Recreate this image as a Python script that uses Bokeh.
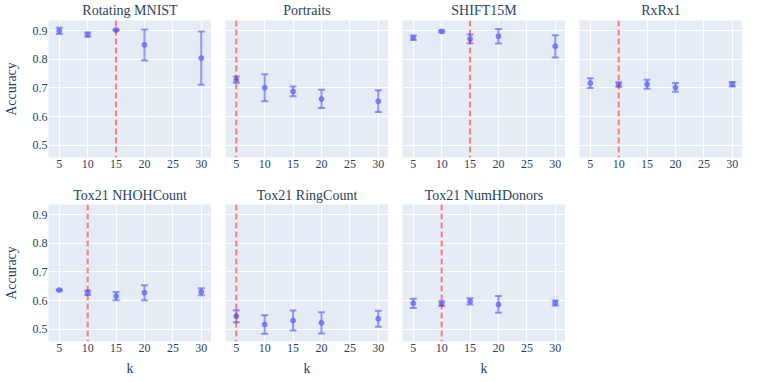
from bokeh.plotting import figure
from bokeh.layouts import row, column
from bokeh.models import Range1d, FixedTicker, Span
from bokeh.embed import file_html
from bokeh.resources import INLINE

FONT = "Liberation Serif"
TXT = "#2a3f5f"
BG = "#E5ECF6"
BLUE = "#636efa"

ks = [5, 10, 15, 20, 30]
x_ticks = [5, 10, 15, 20, 25, 30]
y_ticks = [0.5, 0.6, 0.7, 0.8, 0.9]

titles = ["Rotating MNIST", "Portraits", "SHIFT15M", "RxRx1",
          "Tox21 NHOHCount", "Tox21 RingCount", "Tox21 NumHDonors"]

rot_mnist_mean = [0.899, 0.886, 0.902, 0.850, 0.804]
rot_mnist_err = [0.011, 0.0075, 0.002, 0.054, 0.093]
portraits_mean = [0.729, 0.701, 0.688, 0.662, 0.654]
portraits_err = [0.011, 0.047, 0.017, 0.032, 0.038]
shift15m_mean = [0.875, 0.897, 0.871, 0.880, 0.845]
shift15m_err = [0.008, 0.004, 0.015, 0.025, 0.039]
rxrx1_mean = [0.717, 0.712, 0.713, 0.702, 0.713]
rxrx1_err = [0.017, 0.008, 0.016, 0.015, 0.0075]
nhoh_mean = [0.637, 0.628, 0.616, 0.628, 0.631]
nhoh_err = [0.002, 0.008, 0.014, 0.026, 0.012]
ring_mean = [0.546, 0.517, 0.531, 0.523, 0.537]
ring_err = [0.021, 0.032, 0.035, 0.037, 0.028]
hdon_mean = [0.591, 0.590, 0.598, 0.587, 0.592]
hdon_err = [0.016, 0.008, 0.011, 0.029, 0.009]

best_k = [15, 5, 15, 10, 10, 5, 10]

means = [rot_mnist_mean, portraits_mean, shift15m_mean, rxrx1_mean,
         nhoh_mean, ring_mean, hdon_mean]
errs = [rot_mnist_err, portraits_err, shift15m_err, rxrx1_err,
        nhoh_err, ring_err, hdon_err]


def make(i, r, c):
    p = figure(frame_width=163, frame_height=137,
               output_backend="svg", toolbar_location=None,
               x_range=Range1d(3.1, 31.8), y_range=Range1d(0.458, 0.935),
               min_border_left=44 if c == 0 else 14, min_border_right=0,
               min_border_top=24 if r == 0 else 20,
               min_border_bottom=27 if r == 0 else 38,
               background_fill_color=BG, border_fill_color="white",
               outline_line_color=None)
    p.title.text = titles[i]
    p.title.align = "center"
    p.title.text_font = FONT
    p.title.text_font_size = "14px"
    p.title.text_font_style = "normal"
    p.title.text_color = TXT
    p.title.standoff = 6 if r == 0 else 3

    for ax in (p.xaxis[0], p.yaxis[0]):
        ax.axis_line_color = None
        ax.major_tick_line_color = None
        ax.minor_tick_line_color = None
        ax.major_tick_out = 0
        ax.major_tick_in = 0
        ax.minor_tick_out = 0
        ax.minor_tick_in = 0
        ax.major_label_text_font = FONT
        ax.major_label_text_font_size = "12px"
        ax.major_label_text_color = TXT
        ax.axis_label_text_font = FONT
        ax.axis_label_text_font_size = "14px"
        ax.axis_label_text_font_style = "normal"
        ax.axis_label_text_color = TXT
    p.xaxis.ticker = FixedTicker(ticks=x_ticks)
    p.yaxis.ticker = FixedTicker(ticks=y_ticks)
    p.xaxis.major_label_standoff = 2
    p.yaxis.major_label_standoff = 1
    if r == 1:
        p.xaxis.axis_label = "k"
        p.xaxis.axis_label_standoff = 6
    if c == 0:
        p.yaxis.axis_label = "Accuracy"
        p.yaxis.axis_label_standoff = 11
    else:
        p.yaxis.visible = False

    p.xgrid.grid_line_color = "white"
    p.ygrid.grid_line_color = "white"
    p.xgrid.grid_line_width = 1
    p.ygrid.grid_line_width = 1

    m = means[i]
    e = errs[i]
    upper = [a + b for a, b in zip(m, e)]
    lower = [a - b for a, b in zip(m, e)]
    p.segment(x0=ks, y0=lower, x1=ks, y1=upper, line_color=BLUE,
              line_alpha=0.7, line_width=2)
    p.scatter(x=ks, y=upper, marker="dash", size=7, line_color=BLUE,
              line_alpha=0.7, line_width=2)
    p.scatter(x=ks, y=lower, marker="dash", size=7, line_color=BLUE,
              line_alpha=0.7, line_width=2)
    p.scatter(x=ks, y=m, size=5, fill_color=BLUE, line_color=BLUE,
              fill_alpha=0.75, line_alpha=0.75)

    p.add_layout(Span(location=best_k[i], dimension="height",
                      line_color="red", line_alpha=0.5, line_width=2,
                      line_dash="6 3"))
    return p


figs = []
for i in range(7):
    r, c = divmod(i, 4)
    figs.append(make(i, r, c))

layout = column(row(*figs[:4]), row(*figs[4:]),
                styles={"margin-top": "-4px", "margin-bottom": "-8px"})

open("out.html", "w").write(file_html(layout, INLINE))
